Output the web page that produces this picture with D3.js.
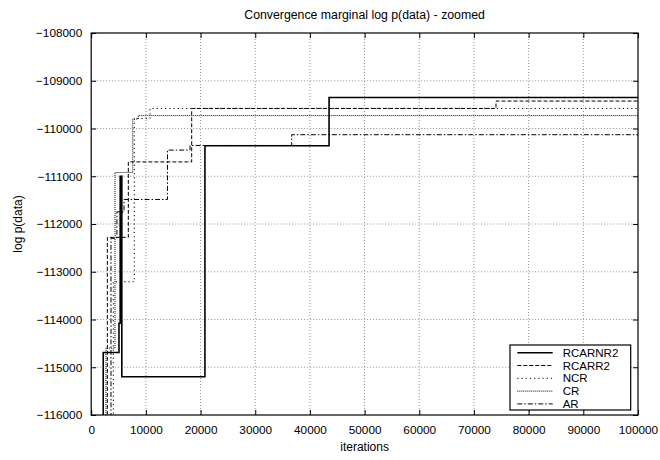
<!DOCTYPE html>
<html>
<head>
<meta charset="utf-8">
<script src="https://cdn.jsdelivr.net/npm/d3@7"></script>
<style>
  body { margin: 0; background: #fff; }
  text { font-family: "Liberation Sans", Arial, Helvetica, sans-serif; fill: #000; }
</style>
</head>
<body>
<svg id="chart" width="660" height="460"></svg>
<script>
// ticks
const xTicks = [0, 10000, 20000, 30000, 40000, 50000, 60000, 70000, 80000, 90000, 100000];
const yTicks = [-116000, -115000, -114000, -113000, -112000, -111000, -110000, -109000, -108000];

// series: [iteration, best log p] where the value changes (step-after)
const seriesNames = ["RCARNR2", "RCARR2", "NCR", "CR", "AR"];
const belowWindow = -116500;
const rcarnr2 = [[2200, -114690], [5080, -114080], [5300, -111000], [5600, -115200], [20800, -110360], [43500, -109350]];
const rcarr2 = [[2950, -112280], [6790, -110700], [18380, -109580], [74030, -109425]];
const ncr = [[4040, -113210], [7880, -109790], [10770, -109580]];
const cr = [[2700, -114600], [4350, -110920], [7600, -109800], [8600, -109730]];
const ar = [[3620, -112300], [4700, -111745], [6000, -111486], [13950, -110452], [18070, -110355], [36670, -110130]];
const lastIteration = 100000;

const dashes = ["none", "4,2", "1.2,3", "1,1", "5,2,1.5,2"];
const widths = [1.6, 1, 1, 1, 1];

const svg = d3.select("#chart");
const plotLeft = 91.2, plotRight = 638, plotTop = 33, plotBottom = 415;

const x = d3.scaleLinear().domain([0, 100000]).range([plotLeft, plotRight]);
const y = d3.scaleLinear().domain([-116000, -108000]).range([plotBottom, plotTop]);

svg.append("defs").append("clipPath").attr("id", "plot-clip")
    .append("rect")
    .attr("x", plotLeft).attr("y", plotTop)
    .attr("width", plotRight - plotLeft).attr("height", plotBottom - plotTop);

// grid
const grid = svg.append("g").attr("class", "grid");
grid.selectAll("line.vx")
    .data(xTicks.slice(1, -1))
    .join("line")
    .attr("class", "vx")
    .attr("x1", d => x(d)).attr("x2", d => x(d))
    .attr("y1", plotTop).attr("y2", plotBottom)
    .attr("stroke", "#777").attr("stroke-width", 0.8).attr("stroke-dasharray", "1,2");
grid.selectAll("line.hy")
    .data(yTicks.slice(1, -1))
    .join("line")
    .attr("class", "hy")
    .attr("x1", plotLeft).attr("x2", plotRight)
    .attr("y1", d => y(d)).attr("y2", d => y(d))
    .attr("stroke", "#777").attr("stroke-width", 0.8).attr("stroke-dasharray", "1,2");

// axes with inward ticks on all four sides
const tickFont = "11.8px";
svg.append("g")
    .attr("transform", `translate(0,${plotBottom})`)
    .call(d3.axisBottom(x).tickValues(xTicks).tickSize(-5).tickPadding(11).tickFormat(d3.format("d")))
    .call(g => g.select(".domain").remove())
    .call(g => g.selectAll("text").style("font-size", tickFont));
svg.append("g")
    .attr("transform", `translate(0,${plotTop})`)
    .call(d3.axisTop(x).tickValues(xTicks).tickSize(-5).tickFormat(""))
    .call(g => g.select(".domain").remove());
svg.append("g")
    .attr("transform", `translate(${plotLeft},0)`)
    .call(d3.axisLeft(y).tickValues(yTicks).tickSize(-5).tickPadding(9).tickFormat(d3.format("d")))
    .call(g => g.select(".domain").remove())
    .call(g => g.selectAll("text").style("font-size", tickFont));
svg.append("g")
    .attr("transform", `translate(${plotRight},0)`)
    .call(d3.axisRight(y).tickValues(yTicks).tickSize(-5).tickFormat(""))
    .call(g => g.select(".domain").remove());

svg.selectAll(".tick line").attr("stroke", "#000").attr("stroke-width", 1);

// frame
svg.append("rect")
    .attr("x", plotLeft).attr("y", plotTop)
    .attr("width", plotRight - plotLeft).attr("height", plotBottom - plotTop)
    .attr("fill", "none").attr("stroke", "#000").attr("stroke-width", 1.2);

// series
function stepPoints(steps) {
    const pts = [[steps[0][0], belowWindow], ...steps];
    pts.push([lastIteration, steps[steps.length - 1][1]]);
    return pts;
}

const allSeries = [rcarnr2, rcarr2, ncr, cr, ar];
const line = d3.line()
    .x(d => x(d[0]))
    .y(d => y(d[1]))
    .curve(d3.curveStepAfter);

svg.append("g")
    .attr("clip-path", "url(#plot-clip)")
    .selectAll("path")
    .data(allSeries)
    .join("path")
    .attr("d", d => line(stepPoints(d)))
    .attr("fill", "none")
    .attr("stroke", "#000")
    .attr("stroke-width", (d, i) => widths[i])
    .attr("stroke-dasharray", (d, i) => dashes[i]);

// legend
const legend = svg.append("g").attr("class", "legend");
legend.append("rect")
    .attr("x", 510).attr("y", 345)
    .attr("width", 120.7).attr("height", 65)
    .attr("fill", "#fff").attr("stroke", "#000").attr("stroke-width", 1.2);

const rows = legend.selectAll("g.row")
    .data(seriesNames)
    .join("g")
    .attr("class", "row")
    .attr("transform", (d, i) => `translate(0,${352.7 + i * 12.8})`);
rows.append("line")
    .attr("x1", 517.3).attr("x2", 552.7)
    .attr("stroke", "#000")
    .attr("stroke-width", (d, i) => widths[i])
    .attr("stroke-dasharray", (d, i) => dashes[i]);
rows.append("text")
    .attr("x", 562.7).attr("dy", "0.35em")
    .style("font-size", "11.5px")
    .text(d => d);

// titles
svg.append("text")
    .attr("x", (plotLeft + plotRight) / 2).attr("y", 18.5)
    .attr("text-anchor", "middle")
    .style("font-size", "12.3px")
    .text("Convergence marginal log p(data) - zoomed");
svg.append("text")
    .attr("x", (plotLeft + plotRight) / 2).attr("y", 451)
    .attr("text-anchor", "middle")
    .style("font-size", "12px")
    .text("iterations");
svg.append("text")
    .attr("transform", `translate(22,${(plotTop + plotBottom) / 2}) rotate(-90)`)
    .attr("text-anchor", "middle")
    .style("font-size", "12px")
    .text("log p(data)");
</script>
</body>
</html>
